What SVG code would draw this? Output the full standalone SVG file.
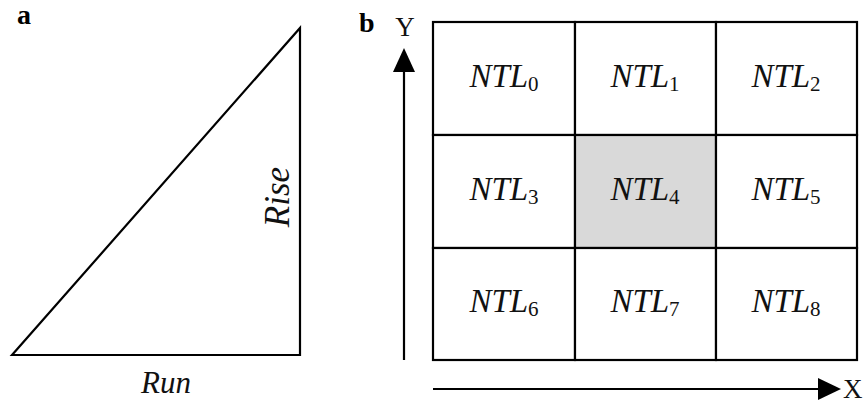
<svg xmlns="http://www.w3.org/2000/svg" width="866" height="407" viewBox="0 0 866 407">
  <style>
    .ln { stroke: #000; stroke-width: 2.2; fill: none; }
    .cell { stroke: #000; stroke-width: 2.2; fill: #fff; }
    .cell.hl { fill: #d9d9d9; }
    .lbl { font-family: "Liberation Serif", "Times New Roman", serif; font-size: 33px; font-style: italic; fill: #111; }
    .sub { font-style: normal; font-size: 21px; }
    .ax { font-family: "Liberation Serif", "Times New Roman", serif; font-size: 27px; fill: #111; }
    .tag { font-family: "Liberation Serif", "Times New Roman", serif; font-size: 28px; font-weight: bold; fill: #000; }
  </style>

  <rect width="866" height="407" fill="#fff"/>

  <!-- panel a: slope triangle -->
  <text class="tag" x="17" y="24">a</text>
  <g id="triangle">
    <path class="ln" d="M12,355 L300,28 L300,355 Z"/>
    <text class="lbl" x="166" y="393" text-anchor="middle" style="font-size:31px">Run</text>
    <text class="lbl" transform="translate(289,197) rotate(-90)" text-anchor="middle" style="font-size:35px">Rise</text>
  </g>

  <!-- panel b: 3x3 neighbourhood -->
  <text class="tag" x="359" y="32">b</text>

  <g id="cell0"><rect class="cell" x="433" y="22" width="142" height="113"/>
    <text class="lbl" x="504" y="87" text-anchor="middle">NTL<tspan class="sub" dy="4">0</tspan></text></g>
  <g id="cell1"><rect class="cell" x="575" y="22" width="141" height="113"/>
    <text class="lbl" x="645" y="87" text-anchor="middle">NTL<tspan class="sub" dy="4">1</tspan></text></g>
  <g id="cell2"><rect class="cell" x="716" y="22" width="141" height="113"/>
    <text class="lbl" x="786" y="87" text-anchor="middle">NTL<tspan class="sub" dy="4">2</tspan></text></g>

  <g id="cell3"><rect class="cell" x="433" y="135" width="142" height="113"/>
    <text class="lbl" x="504" y="200" text-anchor="middle">NTL<tspan class="sub" dy="4">3</tspan></text></g>
  <g id="cell4"><rect class="cell hl" x="575" y="135" width="141" height="113"/>
    <text class="lbl" x="645" y="200" text-anchor="middle">NTL<tspan class="sub" dy="4">4</tspan></text></g>
  <g id="cell5"><rect class="cell" x="716" y="135" width="141" height="113"/>
    <text class="lbl" x="786" y="200" text-anchor="middle">NTL<tspan class="sub" dy="4">5</tspan></text></g>

  <g id="cell6"><rect class="cell" x="433" y="248" width="142" height="112"/>
    <text class="lbl" x="504" y="312" text-anchor="middle">NTL<tspan class="sub" dy="4">6</tspan></text></g>
  <g id="cell7"><rect class="cell" x="575" y="248" width="141" height="112"/>
    <text class="lbl" x="645" y="312" text-anchor="middle">NTL<tspan class="sub" dy="4">7</tspan></text></g>
  <g id="cell8"><rect class="cell" x="716" y="248" width="141" height="112"/>
    <text class="lbl" x="786" y="312" text-anchor="middle">NTL<tspan class="sub" dy="4">8</tspan></text></g>

  <!-- axes -->
  <g id="connectors">
    <path d="M404,360 L404,70" class="ln"/>
    <path d="M404,48 L393,72 L415,72 Z" fill="#000"/>
    <path d="M433,389 L820,389" class="ln"/>
    <path d="M841,389 L818,378 L818,400 Z" fill="#000"/>
  </g>
  <text class="ax" x="405" y="36" text-anchor="middle">Y</text>
  <text class="ax" x="843" y="398">X</text>
</svg>
